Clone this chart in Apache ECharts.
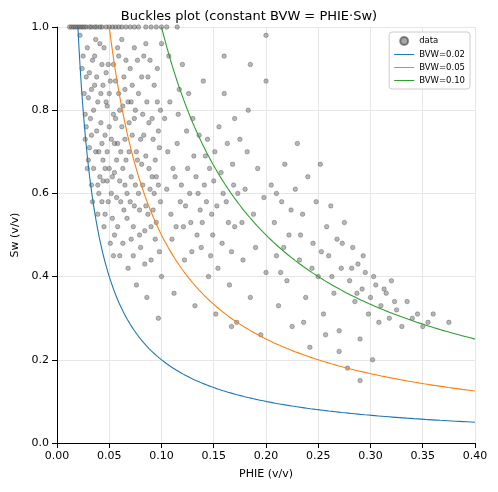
<!DOCTYPE html>
<html><head><meta charset="utf-8">
<script src="https://cdn.jsdelivr.net/npm/echarts@6/dist/echarts.min.js"></script>
<style>html,body{margin:0;padding:0;background:#fff}#c{width:498px;height:492px}</style>
</head><body><div id="c"></div>
<script>
const bvwValues = [0.02, 0.05, 0.10];
const lineColors = ['#1f77b4', '#ff7f0e', '#2ca02c'];
const xTicks = [0, 0.05, 0.1, 0.15, 0.2, 0.25, 0.3, 0.35, 0.4];
const data = [
[0.012,1],[0.016,1],[0.02,1],[0.024,1],[0.028,1],[0.033,1],[0.038,1],[0.043,1],[0.05,1],[0.056,1],[0.062,1],[0.07,1],[0.078,1],[0.085,1],[0.095,1],[0.105,1],[0.115,1],
[0.014,1],[0.018,1],[0.022,1],[0.026,1],[0.031,1],[0.036,1],[0.041,1],[0.047,1],[0.053,1],[0.059,1],[0.066,1],[0.074,1],[0.09,1],[0.1,1],
[0.022,0.98],[0.025,0.93],[0.028,0.88],[0.03,0.83],[0.032,0.78],[0.027,0.73],[0.03,0.68],[0.034,0.92],[0.036,0.86],[0.038,0.75],[0.04,0.70],[0.041,0.64],[0.043,0.58],[0.045,0.95],[0.047,0.89],[0.048,0.81],[0.05,0.76],[0.05,0.66],[0.052,0.60],[0.053,0.54],[0.055,0.50],[0.056,0.87],[0.058,0.72],[0.06,0.63],[0.06,0.45],[0.062,0.97],[0.063,0.81],[0.064,0.56],[0.066,0.68],[0.068,0.42],[0.07,0.90],[0.072,0.74],[0.073,0.52],[0.075,0.62],[0.076,0.38],[0.078,0.84],[0.08,0.47],[0.081,0.67],[0.083,0.93],[0.085,0.57],[0.086,0.35],[0.088,0.77],[0.09,0.44],[0.091,0.64],[0.093,0.86],[0.095,0.53],[0.097,0.30],[0.098,0.71],[0.1,0.96],[0.1,0.40],
[0.026,0.84],[0.029,0.95],[0.031,0.71],[0.033,0.62],[0.035,0.80],[0.037,0.97],[0.039,0.55],[0.042,0.84],[0.044,0.68],[0.046,0.74],[0.049,0.91],[0.051,0.48],[0.054,0.79],[0.057,0.59],[0.059,0.93],[0.061,0.70],[0.065,0.85],[0.067,0.60],[0.069,0.77],[0.071,0.49],[0.074,0.95],[0.077,0.68],[0.079,0.56],[0.082,0.79],[0.084,0.43],[0.087,0.88],[0.089,0.61],[0.092,0.73],[0.094,0.49],[0.096,0.82],[0.099,0.58],[0.035,0.66],[0.045,0.52],[0.055,0.65],[0.065,0.73],[0.075,0.80],[0.085,0.69],[0.095,0.64],[0.044,0.86],[0.054,0.91],[0.064,0.88],[0.074,0.57],[0.084,0.51],
[0.024,0.90],[0.027,0.79],[0.029,0.66],[0.031,0.89],[0.033,0.74],[0.034,0.58],[0.036,0.93],[0.037,0.70],[0.039,0.82],[0.040,0.60],[0.042,0.77],[0.043,0.91],[0.044,0.63],[0.046,0.55],[0.047,0.82],[0.048,0.70],[0.049,0.58],[0.051,0.87],[0.052,0.73],[0.053,0.64],[0.054,0.45],[0.056,0.78],[0.057,0.68],[0.058,0.52],[0.059,0.84],[0.061,0.58],[0.062,0.76],[0.063,0.48],[0.065,0.62],[0.066,0.92],[0.067,0.54],[0.068,0.82],[0.069,0.70],[0.071,0.64],[0.072,0.86],[0.073,0.45],[0.074,0.78],[0.076,0.70],[0.077,0.92],[0.078,0.60],[0.079,0.50],[0.081,0.88],[0.082,0.62],[0.083,0.74],[0.086,0.82],[0.087,0.55],[0.088,0.66],[0.089,0.92],[0.091,0.78],[0.092,0.56],[0.094,0.68],[0.096,0.90],[0.097,0.62],[0.098,0.46],[0.099,0.80],
[0.038,0.88],[0.041,0.96],[0.046,0.66],[0.05,0.84],[0.055,0.72],[0.06,0.80],[0.063,0.66],[0.07,0.58],[0.071,0.82],[0.08,0.73],[0.085,0.96],[0.09,0.52],[0.093,0.60],[0.097,0.75],[0.058,0.95],[0.048,0.63],[0.043,0.72],[0.033,0.85],[0.028,0.76],[0.039,0.62],
[0.105,0.61],[0.108,0.82],[0.11,0.49],[0.112,0.36],[0.115,0.72],[0.118,0.58],[0.12,0.91],[0.122,0.44],[0.125,0.66],[0.128,0.53],[0.13,0.78],[0.132,0.33],[0.135,0.60],[0.138,0.47],[0.14,0.87],[0.142,0.69],[0.145,0.40],[0.148,0.55],[0.15,0.63],[0.152,0.31],[0.155,0.76],[0.158,0.48],[0.16,0.84],[0.162,0.58],[0.165,0.38],[0.168,0.67],[0.17,0.52],[0.172,0.29],[0.175,0.73],[0.178,0.44],[0.18,0.61],[0.183,0.80],[0.185,0.35],[0.188,0.55],[0.19,0.47],[0.192,0.66],[0.195,0.26],[0.198,0.59],[0.2,0.87],[0.2,0.41],
[0.106,0.70],[0.109,0.55],[0.113,0.64],[0.117,0.85],[0.121,0.52],[0.124,0.75],[0.127,0.60],[0.131,0.69],[0.134,0.50],[0.137,0.56],[0.141,0.62],[0.144,0.73],[0.147,0.45],[0.153,0.57],[0.157,0.65],[0.163,0.72],[0.167,0.46],[0.173,0.60],[0.177,0.53],[0.182,0.70],
[0.103,0.78],[0.107,0.93],[0.111,0.66],[0.114,0.52],[0.116,0.79],[0.119,0.62],[0.123,0.57],[0.126,0.84],[0.129,0.46],[0.133,0.64],[0.136,0.74],[0.139,0.53],[0.143,0.58],[0.146,0.66],[0.149,0.50],[0.151,0.70],[0.154,0.42],[0.159,0.60],[0.164,0.53],[0.169,0.62],
[0.205,0.62],[0.208,0.53],[0.21,0.45],[0.212,0.33],[0.215,0.58],[0.218,0.67],[0.22,0.39],[0.222,0.50],[0.225,0.28],[0.228,0.61],[0.23,0.72],[0.232,0.44],[0.235,0.55],[0.238,0.35],[0.24,0.64],[0.242,0.23],[0.245,0.48],[0.248,0.58],[0.25,0.40],[0.252,0.67],[0.255,0.31],[0.258,0.52],[0.26,0.45],[0.262,0.57],[0.265,0.36],[0.268,0.49],[0.27,0.27],[0.272,0.42],[0.275,0.53],[0.278,0.18],[0.28,0.39],[0.283,0.47],[0.285,0.34],[0.288,0.43],[0.29,0.25],[0.292,0.37],[0.295,0.41],[0.298,0.31],[0.3,0.35],[0.302,0.20],[0.305,0.38],[0.308,0.29],[0.31,0.33],[0.315,0.36],[0.318,0.30],[0.32,0.39],[0.325,0.32],[0.33,0.28],[0.335,0.34],[0.34,0.30],[0.345,0.31],[0.35,0.28],[0.355,0.29],[0.36,0.31],[0.375,0.29],[0.29,0.15],[0.27,0.22],[0.354,0.957],[0.2,0.98],[0.185,0.91],
[0.21,0.60],[0.217,0.47],[0.224,0.56],[0.233,0.50],[0.244,0.42],[0.253,0.46],[0.263,0.40],[0.273,0.48],[0.282,0.42],[0.293,0.45],[0.303,0.40],[0.313,0.37],[0.323,0.34],[0.214,0.41],[0.236,0.29],[0.257,0.26],[0.287,0.36],[0.167,0.28],[0.16,0.93],[0.17,0.78]
];

const series = [{
  name: 'data', type: 'scatter', data: data, symbolSize: 4.5,
  itemStyle: { color: 'rgba(90,90,90,0.55)', borderColor: 'rgba(30,30,30,0.6)', borderWidth: 0.6 }, z: 1
}];
bvwValues.forEach((b, i) => {
  const pts = [];
  for (let k = 0; k <= 400; k++) {
    const p = b + (0.4 - b) * Math.pow(k / 400, 2);
    pts.push([p, b / p]);
  }
  series.push({ name: 'BVW=' + b.toFixed(2), type: 'line', data: pts, showSymbol: false,
    symbol: 'none', lineStyle: { color: lineColors[i], width: 1.1 }, itemStyle: { color: lineColors[i] }, z: 3 });
});

const chart = echarts.init(document.getElementById('c'));
chart.setOption({
  animation: false,
  title: { text: 'Buckles plot (constant BVW = PHIE·Sw)', left: 'center', top: 5,
    textStyle: { fontFamily: 'DejaVu Sans', fontSize: 13, fontWeight: 'normal', color: '#000' } },
  grid: { left: 57, right: 23, top: 27, bottom: 49 },
  legend: {
    orient: 'vertical', right: 28, top: 32, itemWidth: 20, itemHeight: 8, itemGap: 4,
    backgroundColor: '#fff', borderColor: '#ccc', borderWidth: 1, borderRadius: 3, padding: [4, 5],
    textStyle: { fontFamily: 'DejaVu Sans', fontSize: 8.5, color: '#000' },
    data: [{ name: 'data', icon: 'circle', itemStyle: { color: 'rgba(70,70,70,0.6)' } },
      { name: 'BVW=0.02', icon: 'path://M0,4L20,4L20,5L0,5Z' },
      { name: 'BVW=0.05', icon: 'path://M0,4L20,4L20,5L0,5Z' },
      { name: 'BVW=0.10', icon: 'path://M0,4L20,4L20,5L0,5Z' }]
  },
  xAxis: { type: 'value', min: 0, max: 0.4, interval: 0.05, name: 'PHIE (v/v)', nameLocation: 'middle', nameGap: 26,
    nameTextStyle: { fontFamily: 'DejaVu Sans', fontSize: 11, color: '#000' },
    axisLine: { lineStyle: { color: '#000' } }, axisTick: { inside: false, lineStyle: { color: '#000' } },
    axisLabel: { fontFamily: 'DejaVu Sans', fontSize: 11, color: '#000', formatter: v => v.toFixed(2) },
    splitLine: { show: true, lineStyle: { color: '#e6e6e6' } } },
  yAxis: { type: 'value', min: 0, max: 1, interval: 0.2, name: 'Sw (v/v)', nameLocation: 'middle', nameGap: 36,
    nameTextStyle: { fontFamily: 'DejaVu Sans', fontSize: 11, color: '#000' },
    axisLine: { show: true, lineStyle: { color: '#000' } }, axisTick: { show: true, lineStyle: { color: '#000' } },
    axisLabel: { fontFamily: 'DejaVu Sans', fontSize: 11, color: '#000', formatter: v => v.toFixed(1) },
    splitLine: { show: true, lineStyle: { color: '#e6e6e6' } } },
  series: series
});
</script></body></html>
